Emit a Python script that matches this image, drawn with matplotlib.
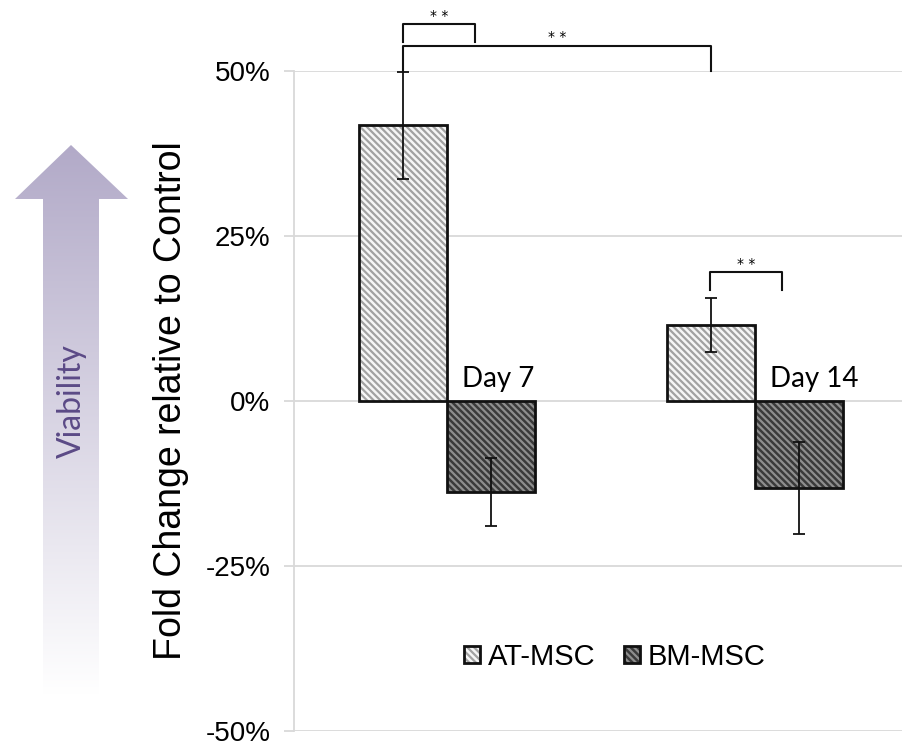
import numpy as np
import matplotlib
matplotlib.use("Agg")
import matplotlib.pyplot as plt
from matplotlib.patches import Polygon
from matplotlib.legend_handler import HandlerTuple
from matplotlib.ticker import FixedLocator

# ---- data ----
days = ["Day 7", "Day 14"]
series = ["AT-MSC", "BM-MSC"]
at_vals = [41.8, 11.5]
at_err = [8.1, 4.1]
bm_vals = [-13.8, -13.2]
bm_err = [5.1, 7.0]
yticks = [-50, -25, 0, 25, 50]
ytick_labels = ["-50%", "-25%", "0%", "25%", "50%"]

W, H = 902, 746
plt.rcParams['hatch.linewidth'] = 1.6
fig = plt.figure(figsize=(W / 100, H / 100), dpi=100)

# ---- background arrow ("Viability") ----
bg = fig.add_axes([0, 0, 1, 1], zorder=0)
bg.set_xlim(0, W)
bg.set_ylim(H, 0)
bg.axis("off")
arrow_pts = [(71, 145), (128, 199), (99, 199), (99, 695), (43, 695), (43, 199), (15, 199)]
top_c = np.array([178, 170, 200]) / 255
bot_c = np.array([255, 255, 255]) / 255
t = np.linspace(0, 1, 256)[:, None]
grad = top_c[None, :] * (1 - t) + bot_c[None, :] * t
grad = np.repeat(grad[:, None, :], 2, axis=1)
im = bg.imshow(grad, extent=[15, 128, 695, 145], aspect="auto", interpolation="bilinear")
poly = Polygon(arrow_pts, closed=True, transform=bg.transData, facecolor="none", edgecolor="none")
bg.add_patch(poly)
im.set_clip_path(poly)
bg.text(72, 401, "Viability", rotation=90, ha="center", va="center",
        fontsize=23, color="#5b4a86", family=["Lato", "DejaVu Sans"])

# ---- main axes ----
ax = fig.add_axes([294 / W, 15 / H, (W - 294) / W, 660 / H], zorder=1)
ax.patch.set_alpha(0)
x = np.arange(len(days))
bw = 0.286
off = bw / 2
hatch = "\\" * 5

at_fill = ax.bar(x - off, at_vals, bw, color="#f6f6f6", edgecolor="#a2a2a2",
                 hatch=hatch, linewidth=0, zorder=2)
bm_fill = ax.bar(x + off, bm_vals, bw, color="#3a3a3a", edgecolor="#8e8e8e",
                 hatch=hatch, linewidth=0, zorder=2)
at_out = ax.bar(x - off, at_vals, bw, facecolor="none", edgecolor="#111111",
                linewidth=2, zorder=3)
bm_out = ax.bar(x + off, bm_vals, bw, facecolor="none", edgecolor="#111111",
                linewidth=2, zorder=3)

ax.errorbar(x - off, at_vals, yerr=at_err, fmt="none", ecolor="#111111",
            elinewidth=1.3, capsize=4.3, capthick=1.3, zorder=4)
ax.errorbar(x + off, bm_vals, yerr=bm_err, fmt="none", ecolor="#111111",
            elinewidth=1.3, capsize=4.3, capthick=1.3, zorder=4)

ax.set_ylim(-50, 50)
ax.set_xlim(-0.497, (W - 447) / 308)
ax.yaxis.set_major_locator(FixedLocator(yticks))
ax.set_yticklabels(ytick_labels, fontsize=20, family=["Liberation Sans", "DejaVu Sans"])
ax.set_xticks([])
ax.grid(axis="y", color="#d9d9d9", linewidth=1.3, zorder=0)
ax.set_axisbelow(True)
for s in ["top", "right", "bottom"]:
    ax.spines[s].set_visible(False)
ax.spines["left"].set_color("#d9d9d9")
ax.spines["left"].set_linewidth(1.3)
ax.tick_params(axis="y", length=7, width=1.3, color="#d9d9d9", pad=10)

ax.set_ylabel("Fold Change relative to Control", fontsize=27,
              family=["Liberation Sans", "DejaVu Sans"], labelpad=12)

# day labels
for xi, d in zip(x, days):
    ax.text(xi + 0.049, 2.1, d, ha="left", va="baseline", fontsize=20,
            family=["Lato", "DejaVu Sans"], zorder=5)

# significance brackets
def bracket(x1, x2, ytop, yl1, yl2, ystar):
    ax.plot([x1, x1, x2, x2], [yl1, ytop, ytop, yl2], color="#111111",
            linewidth=1.5, clip_on=False, zorder=5)
    ax.text((x1 + x2) / 2, ystar, "* *", ha="center", va="center", fontsize=10,
            clip_on=False, zorder=5)

bracket(-0.143, 0.091, 57.1, 54.4, 54.4, 58.4)
bracket(-0.143, 0.857, 53.8, 50.0, 50.0, 55.1)
bracket(0.854, 1.088, 19.5, 16.8, 16.8, 20.7)

leg = ax.legend([(at_fill[0], at_out[0]), (bm_fill[0], bm_out[0])], series,
                handler_map={tuple: HandlerTuple(ndivide=1)},
                loc="center", bbox_to_anchor=(615 / W, 1 - 657 / H),
                bbox_transform=fig.transFigure, ncol=2, frameon=False,
                prop={"family": ["Liberation Sans", "DejaVu Sans"], "size": 21},
                handlelength=0.55, handleheight=0.55, handletextpad=0.25,
                columnspacing=1.0)

fig.savefig("out.png", dpi=100)
